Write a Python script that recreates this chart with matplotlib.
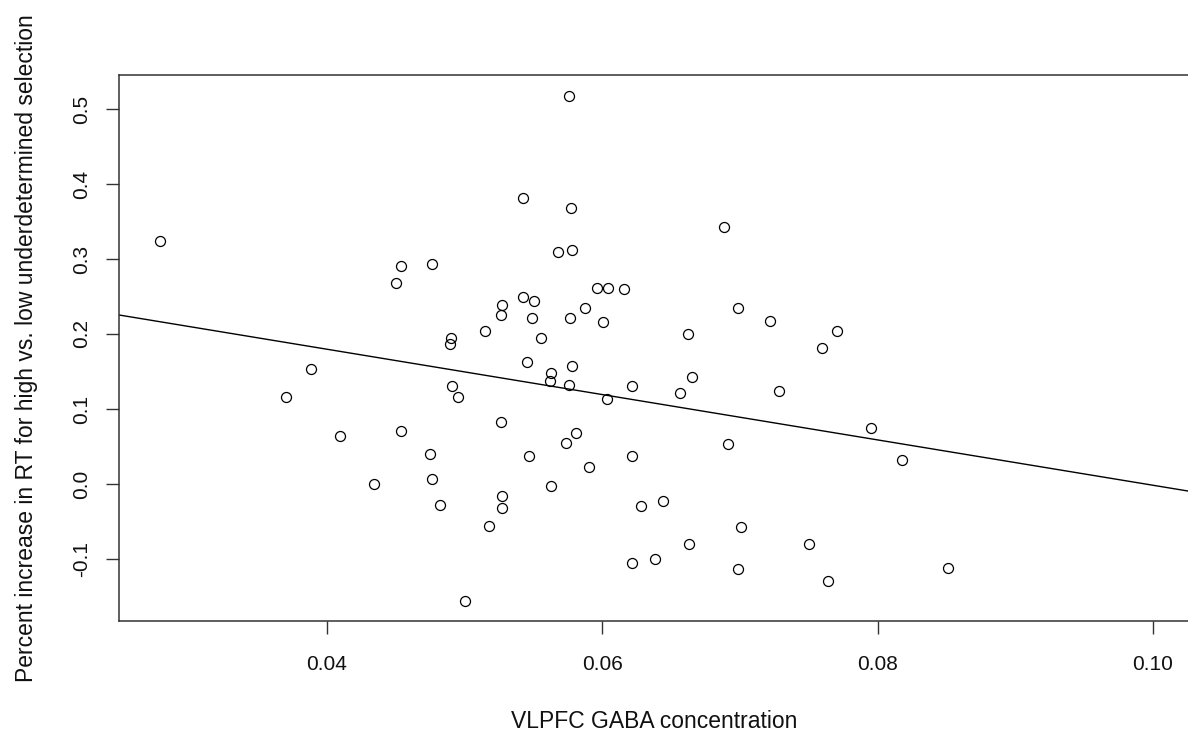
import matplotlib
matplotlib.use("Agg")
import matplotlib.pyplot as plt
import numpy as np

gaba = [0.0279, 0.04535, 0.04503,
        0.05757, 0.05421, 0.05776, 0.05682, 0.05779, 0.04765, 0.05965, 0.0604, 0.06156,
        0.05428, 0.05503, 0.05273, 0.05873, 0.05261, 0.05493, 0.05766, 0.06009, 0.06621,
        0.05147, 0.04905, 0.04893, 0.05555,
        0.06882, 0.06986, 0.07218, 0.07704, 0.07598,
        0.03882, 0.03705, 0.04092, 0.04535, 0.04343,
        0.05457, 0.05779, 0.05628, 0.05621, 0.05759, 0.04912, 0.04953, 0.06038, 0.06219,
        0.06565, 0.0665, 0.05261, 0.05809, 0.05735, 0.04746, 0.05471, 0.06219, 0.05902,
        0.04765, 0.05628, 0.05273, 0.05273, 0.04818, 0.06282, 0.06439, 0.05176, 0.06628,
        0.06219, 0.06386, 0.05000,
        0.07281, 0.07954, 0.06913, 0.08176, 0.07011, 0.07501, 0.06986, 0.07639, 0.08513]
rt_increase = [0.324, 0.2907, 0.2676,
               0.517, 0.3818, 0.3685, 0.3098, 0.312, 0.2929, 0.2618, 0.2618, 0.26,
               0.2497, 0.2444, 0.2382, 0.2347, 0.2249, 0.2213, 0.2213, 0.2156, 0.2,
               0.2036, 0.1947, 0.1867, 0.1947,
               0.343, 0.2347, 0.2178, 0.2036, 0.181,
               0.1533, 0.1164, 0.0644, 0.0707, 0.0004,
               0.1631, 0.1573, 0.1476, 0.1378, 0.132, 0.1307, 0.1164, 0.1129, 0.1307,
               0.1209, 0.1422, 0.0822, 0.0684, 0.0551, 0.0396, 0.0378, 0.0378, 0.0222,
               0.0067, -0.0031, -0.0164, -0.032, -0.028, -0.0298, -0.0222, -0.0556, -0.0804,
               -0.1053, -0.0996, -0.156,
               0.1244, 0.0742, 0.0529, 0.032, -0.0573, -0.0804, -0.1133, -0.1289, -0.1116]

fit_intercept = 0.3006
fit_slope = -3.023

x_ticks = [0.04, 0.06, 0.08, 0.10]
x_ticklabels = ["0.04", "0.06", "0.08", "0.10"]
y_ticks = [-0.1, 0.0, 0.1, 0.2, 0.3, 0.4, 0.5]
y_ticklabels = ["-0.1", "0.0", "0.1", "0.2", "0.3", "0.4", "0.5"]

plt.rcParams['font.family'] = ['Liberation Sans', 'DejaVu Sans']

fig = plt.figure(figsize=(11.88, 7.32), dpi=100)
ax = fig.add_axes([119/1188, 1 - 621/732, (1190 - 119)/1188, (621 - 75)/732])

ax.plot(gaba, rt_increase, linestyle='none', marker='o', markersize=7.2,
        markerfacecolor='none', markeredgecolor='black', markeredgewidth=0.9)

xlim = (0.0249, 0.10269)
xs = np.array(xlim)
ax.plot(xs, fit_intercept + fit_slope * xs, color='black', linewidth=1.0)

ax.set_xlim(*xlim)
ax.set_ylim(-0.1827, 0.5453)

ax.set_xticks(x_ticks)
ax.set_xticklabels(x_ticklabels)
ax.set_yticks(y_ticks)
ax.set_yticklabels(y_ticklabels, rotation=90, va='center')

ax.tick_params(axis='both', direction='out', length=9.4, width=1.0, color='#333333',
               labelsize=15, labelcolor='#111111')
ax.tick_params(axis='x', pad=15)
ax.tick_params(axis='y', pad=11)

for s in ax.spines.values():
    s.set_linewidth(1.1)
    s.set_color('#333333')

ax.set_xlabel("VLPFC GABA concentration", fontsize=16.5, color='#111111', labelpad=26)
ax.set_ylabel("Percent increase in RT for high vs. low underdetermined selection",
              fontsize=16.5, color='#111111', labelpad=24)

fig.savefig("out.png", dpi=100)
